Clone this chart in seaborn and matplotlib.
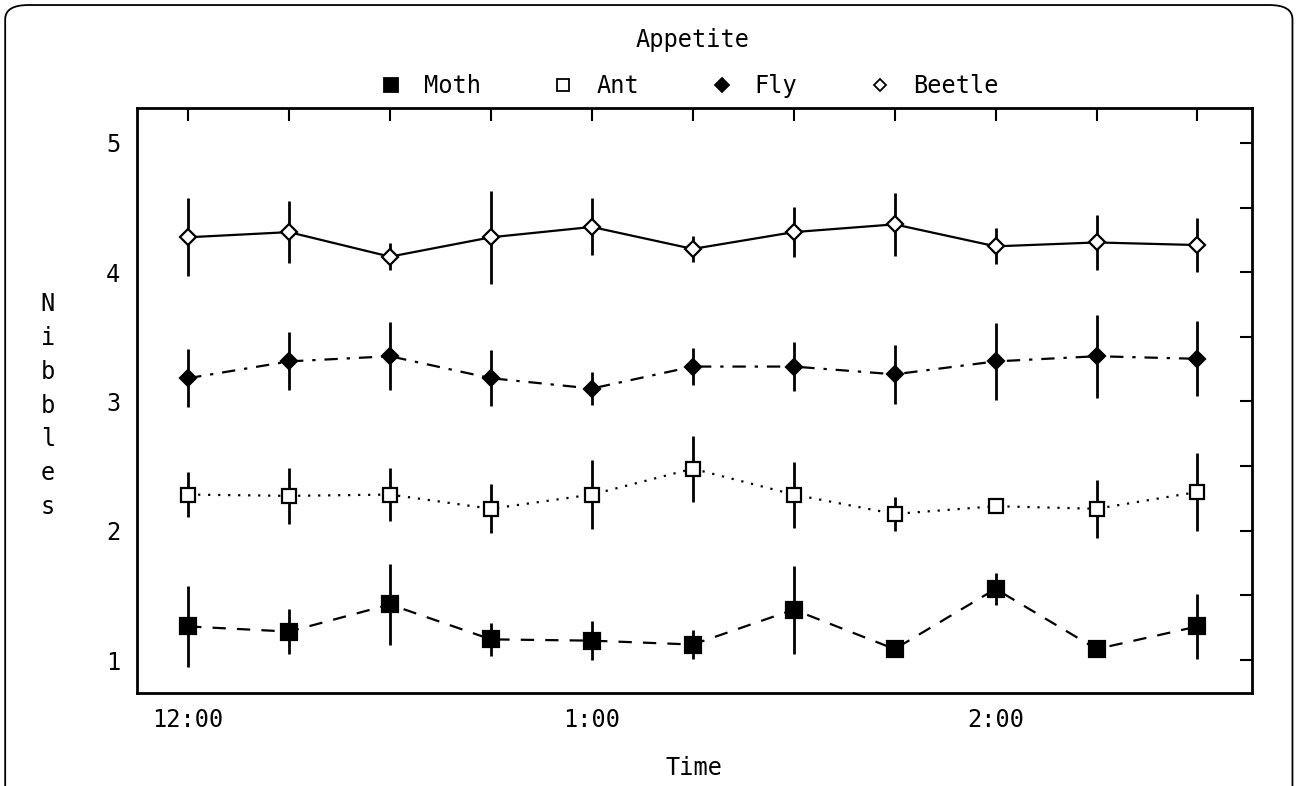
import numpy as np
import pandas as pd
import matplotlib
matplotlib.use("Agg")
import matplotlib.pyplot as plt
from matplotlib.lines import Line2D
from matplotlib.patches import FancyBboxPatch
import seaborn as sns

# Sampling times, minutes after noon
minutes = [0, 15, 30, 45, 60, 75, 90, 105, 120, 135, 150]
tick_minutes = [0, 60, 120]
tick_labels = ["12:00", "1:00", "2:00"]

species = ["Moth", "Ant", "Fly", "Beetle"]

moth = [1.26, 1.22, 1.43, 1.16, 1.15, 1.12, 1.39, 1.085, 1.55, 1.085, 1.26]
moth_err = [0.31, 0.175, 0.31, 0.13, 0.15, 0.115, 0.34, 0.05, 0.125, 0.05, 0.25]

ant = [2.28, 2.27, 2.28, 2.17, 2.28, 2.48, 2.28, 2.13, 2.19, 2.17, 2.30]
ant_err = [0.175, 0.215, 0.205, 0.19, 0.265, 0.255, 0.255, 0.13, 0.05, 0.225, 0.305]

fly = [3.18, 3.31, 3.35, 3.18, 3.10, 3.27, 3.27, 3.21, 3.31, 3.35, 3.33]
fly_err = [0.225, 0.225, 0.265, 0.215, 0.13, 0.14, 0.19, 0.23, 0.295, 0.32, 0.29]

beetle = [4.27, 4.31, 4.12, 4.27, 4.35, 4.18, 4.31, 4.37, 4.20, 4.23, 4.21]
beetle_err = [0.30, 0.24, 0.105, 0.36, 0.22, 0.10, 0.195, 0.245, 0.14, 0.21, 0.21]

values = {"Moth": moth, "Ant": ant, "Fly": fly, "Beetle": beetle}
errors = {"Moth": moth_err, "Ant": ant_err, "Fly": fly_err, "Beetle": beetle_err}

styles = {
    "Moth":   dict(marker="s", mfc="black", ms=11, ls=(0, (6, 5))),
    "Ant":    dict(marker="s", mfc="white", ms=10, ls=(0, (1, 3.5))),
    "Fly":    dict(marker="D", mfc="black", ms=8.5, ls=(0, (6, 4, 1.5, 4))),
    "Beetle": dict(marker="D", mfc="white", ms=8, ls="-"),
}

FS = 17

sns.set_theme(style="white")
plt.rcParams["font.family"] = ["DejaVu Sans Mono"]

fig = plt.figure(figsize=(12.97, 7.86), dpi=100)
ax = fig.add_axes([0.1056, 0.1183, 0.8597, 0.7443])

for name in species:
    st = styles[name]
    df = pd.DataFrame({"t": minutes, "v": values[name]})
    ax.errorbar(minutes, values[name], yerr=errors[name], fmt="none",
                ecolor="black", elinewidth=2, capsize=0, zorder=2)
    sns.lineplot(data=df, x="t", y="v", ax=ax, color="black",
                 linestyle=st["ls"], linewidth=1.6, marker=st["marker"],
                 markersize=st["ms"], markerfacecolor=st["mfc"],
                 markeredgecolor="black", markeredgewidth=1.6, zorder=3)

ax.set_xlim(-7.6, 158.1)
ax.set_ylim(0.745, 5.27)

ax.set_xticks(tick_minutes)
ax.set_xticklabels(tick_labels)
ax.set_xticks(minutes, minor=True)
ax.set_yticks([1, 2, 3, 4, 5])
ax.set_yticks([1.5, 2.5, 3.5, 4.5], minor=True)

ax.tick_params(axis="both", which="both", direction="in", color="black",
               width=1.5, top=True, right=True, labelsize=FS,
               labelcolor="black")
ax.tick_params(axis="both", which="major", length=9)
ax.tick_params(axis="x", which="major", pad=11)
ax.tick_params(axis="y", which="major", pad=12)
ax.tick_params(axis="both", which="minor", length=9)

for sp in ax.spines.values():
    sp.set_visible(True)
    sp.set_color("black")
    sp.set_linewidth(2)

ax.set_xlabel("Time", fontsize=FS, color="black", labelpad=17)
ax.set_ylabel("")
fig.text(0.037, 0.484, "N\ni\nb\nb\nl\ne\ns", fontsize=FS, color="black",
         ha="center", va="center", linespacing=1.52)

fig.text(0.534, 0.949, "Appetite", fontsize=FS, color="black",
         ha="center", va="center")

handles = [Line2D([], [], ls="none", marker=m, mfc=f, mec="black", ms=s, mew=1.3)
           for m, f, s in [("s", "black", 10), ("s", "white", 8),
                           ("D", "black", 7.5), ("D", "white", 6.5)]]
fig.legend(handles, species, loc="center", bbox_to_anchor=(0.531, 0.890),
           ncol=4, frameon=False, fontsize=FS, handlelength=1.0,
           handletextpad=0.9, columnspacing=3.0, labelcolor="black")

border = FancyBboxPatch((0.004, -0.05), 0.9925, 1.0436,
                        boxstyle="round,pad=0,rounding_size=0.018",
                        transform=fig.transFigure, fill=False,
                        edgecolor="black", linewidth=1.3)
fig.patches.append(border)

fig.savefig("out.png", dpi=100)
